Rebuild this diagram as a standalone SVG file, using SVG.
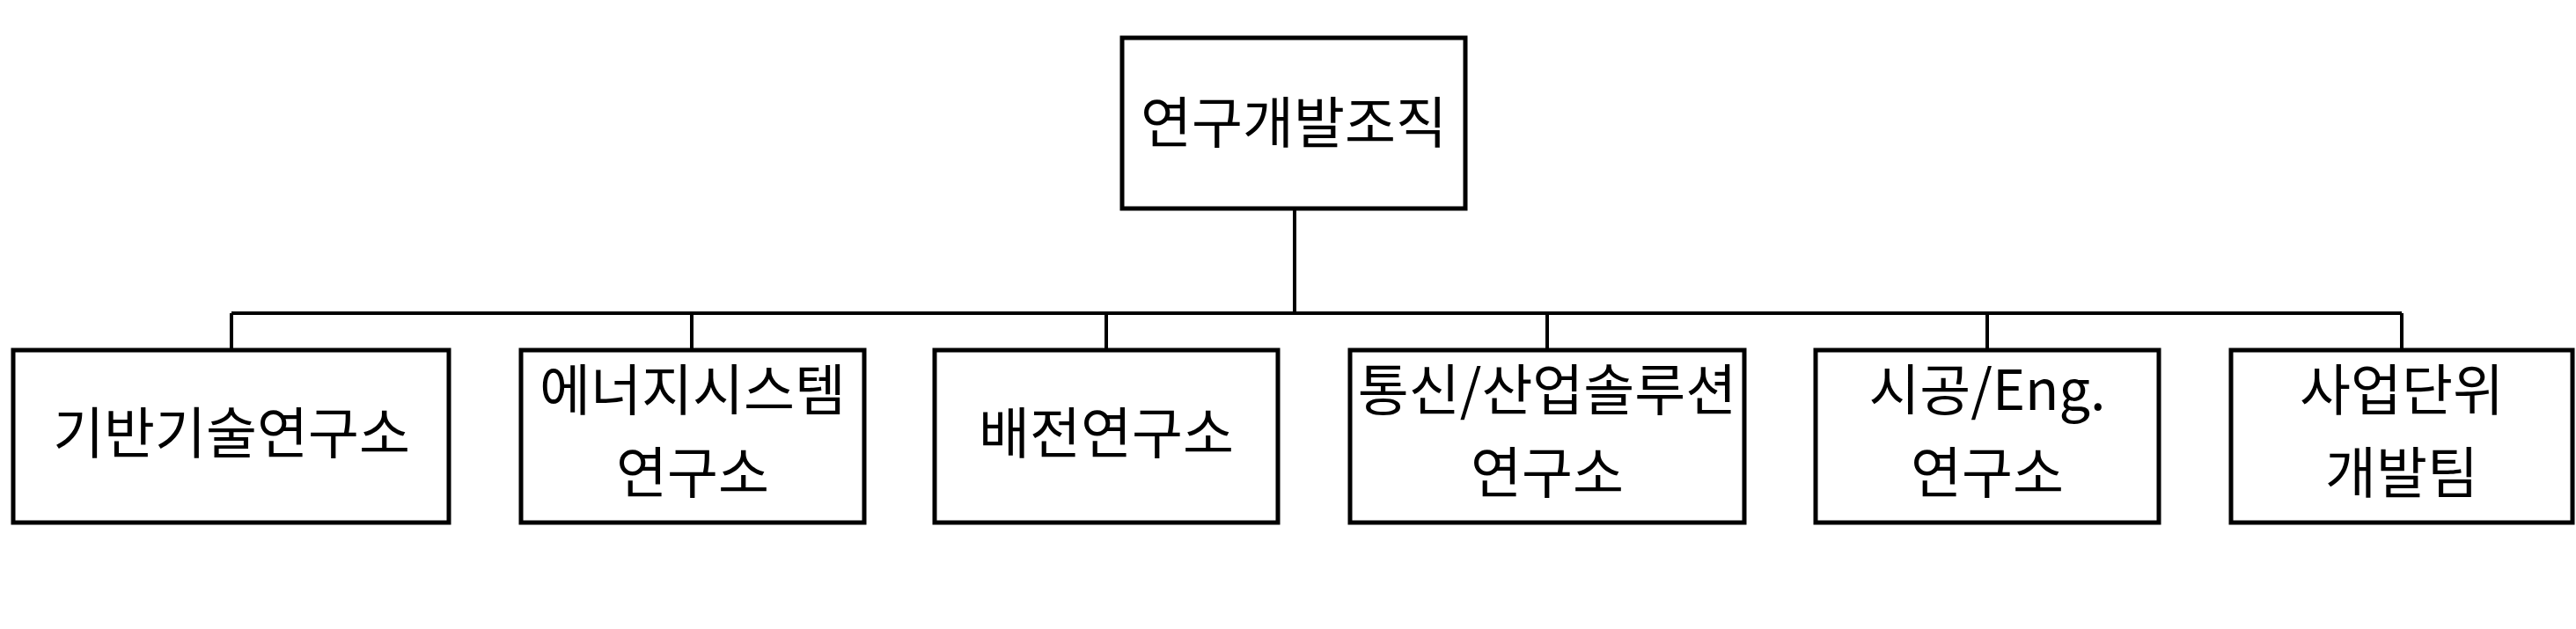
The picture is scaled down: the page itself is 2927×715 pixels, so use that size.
<svg xmlns="http://www.w3.org/2000/svg" width="2927" height="715" viewBox="0 0 2927 715">
<style>
.b{fill:#fff;stroke:#000;stroke-width:5}
text{font-family:"Noto Sans CJK KR","Noto Sans",sans-serif;font-size:63px;text-anchor:middle;fill:#000}
.c{stroke:#000;fill:none;stroke-width:4}
</style>
<rect width="2927" height="715" fill="#fff"/>
<g id="connectors">
<path class="c" d="M1471 237V356" />
<path class="c" d="M263 356H2729" stroke-width="6"/>
<path class="c" d="M263 356V398M786 356V398M1257 356V398M1758 356V398M2258 356V398M2729 356V398"/>
</g>
<g id="root"><rect class="b" x="1275" y="43" width="390" height="194"/><text x="1470" y="162">연구개발조직</text></g>
<g id="n1"><rect class="b" x="15" y="398" width="495" height="196"/><text x="263" y="515">기반기술연구소</text></g>
<g id="n2"><rect class="b" x="592" y="398" width="390" height="196"/><text x="787" y="466">에너지시스템</text><text x="787" y="560">연구소</text></g>
<g id="n3"><rect class="b" x="1062" y="398" width="390" height="196"/><text x="1257" y="515">배전연구소</text></g>
<g id="n4"><rect class="b" x="1534" y="398" width="448" height="196"/><text x="1758" y="466">통신/산업솔루션</text><text x="1758" y="560">연구소</text></g>
<g id="n5"><rect class="b" x="2063" y="398" width="390" height="196"/><text x="2258" y="466">시공/Eng.</text><text x="2258" y="560">연구소</text></g>
<g id="n6"><rect class="b" x="2535" y="398" width="388" height="196"/><text x="2729" y="466">사업단위</text><text x="2729" y="560">개발팀</text></g>
</svg>
